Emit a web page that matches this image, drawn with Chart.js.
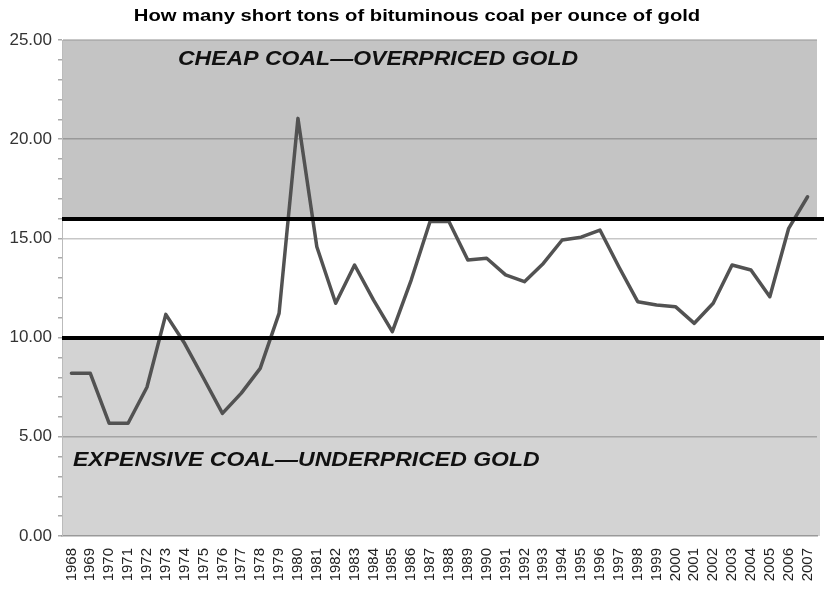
<!DOCTYPE html>
<html>
<head>
<meta charset="utf-8">
<script src="https://cdn.jsdelivr.net/npm/chart.js@4.4.1/dist/chart.umd.min.js"></script>
<style>
  html, body { margin: 0; padding: 0; background: #ffffff; }
  #wrap { width: 824px; height: 589px; }
</style>
</head>
<body>
<div id="wrap"><canvas id="c" width="824" height="589"></canvas></div>
<script>
const titleText = 'How many short tons of bituminous coal per ounce of gold';

const years = ['1968','1969','1970','1971','1972','1973','1974','1975','1976','1977',
  '1978','1979','1980','1981','1982','1983','1984','1985','1986','1987',
  '1988','1989','1990','1991','1992','1993','1994','1995','1996','1997',
  '1998','1999','2000','2001','2002','2003','2004','2005','2006','2007'];

const tonsPerOunce = [8.2, 8.2, 5.68, 5.68, 7.5, 11.17, 9.7, 7.95, 6.18, 7.2,
  8.45, 11.22, 21.05, 14.58, 11.73, 13.66, 11.9, 10.3, 12.9, 15.85,
  15.85, 13.91, 14.0, 13.16, 12.82, 13.74, 14.92, 15.06, 15.42, 13.57,
  11.81, 11.64, 11.56, 10.72, 11.73, 13.66, 13.41, 12.06, 15.51, 17.1];

const yMin = 0;
const yMax = 25;
const yMajorStep = 5;
const zoneBounds = [10, 16];
const zoneLabels = ['EXPENSIVE COAL\u2014UNDERPRICED GOLD', 'CHEAP COAL\u2014OVERPRICED GOLD'];
const zoneLabelValues = [3.8, 24];

Chart.defaults.font.family = "'Liberation Sans', Arial, Helvetica, sans-serif";

function stretchedText(ctx, text, x, y, sx) {
  ctx.save();
  ctx.translate(x, y);
  ctx.scale(sx, 1);
  ctx.fillText(text, 0, 0);
  ctx.restore();
}

const zonesPlugin = {
  id: 'zones',
  beforeDraw(chart) {
    const { ctx, chartArea: a, scales: { y } } = chart;
    ctx.save();
    ctx.fillStyle = '#ffffff';
    ctx.fillRect(0, 0, chart.width, chart.height);
    const yLow = y.getPixelForValue(zoneBounds[0]);
    const yHigh = y.getPixelForValue(zoneBounds[1]);
    const yTop = y.getPixelForValue(yMax);
    const yBot = y.getPixelForValue(yMin);
    ctx.fillStyle = '#c4c4c4';
    ctx.fillRect(a.left, yTop, a.right - a.left, yHigh - yTop);
    ctx.fillStyle = '#d3d3d3';
    ctx.fillRect(a.left, yLow, a.right - a.left + 3, yBot - yLow);
    // title
    ctx.fillStyle = '#000000';
    ctx.font = "bold 17px 'Liberation Sans', Arial, sans-serif";
    ctx.textBaseline = 'middle';
    ctx.textAlign = 'center';
    stretchedText(ctx, titleText, 417, 16, 1.19);
    ctx.restore();
  },
  afterDatasetsDraw(chart) {
    const { ctx, chartArea: a, scales: { y } } = chart;
    ctx.save();
    ctx.strokeStyle = '#000000';
    ctx.lineWidth = 4;
    zoneBounds.forEach(v => {
      const py = Math.round(y.getPixelForValue(v));
      ctx.beginPath();
      ctx.moveTo(a.left, py);
      ctx.lineTo(chart.width, py);
      ctx.stroke();
    });
    ctx.fillStyle = '#111111';
    ctx.font = "italic bold 19.5px 'Liberation Sans', Arial, sans-serif";
    ctx.textBaseline = 'middle';
    ctx.textAlign = 'left';
    stretchedText(ctx, zoneLabels[0], a.left + 11, y.getPixelForValue(zoneLabelValues[0]), 1.18);
    stretchedText(ctx, zoneLabels[1], a.left + 116, y.getPixelForValue(zoneLabelValues[1]), 1.18);
    ctx.restore();
  }
};

new Chart(document.getElementById('c'), {
  type: 'line',
  data: {
    labels: years,
    datasets: [{
      data: tonsPerOunce,
      borderColor: '#525252',
      borderWidth: 3.5,
      pointRadius: 0,
      tension: 0,
      fill: false,
      borderJoinStyle: 'round',
      borderCapStyle: 'round'
    }]
  },
  options: {
    responsive: false,
    devicePixelRatio: 1,
    animation: false,
    layout: { padding: { left: 0, right: 7, top: 40, bottom: 0 } },
    plugins: {
      legend: { display: false },
      tooltip: { enabled: false },
      title: { display: false }
    },
    scales: {
      x: {
        offset: true,
        grid: { display: false },
        border: { color: '#999999', width: 1.5 },
        ticks: {
          autoSkip: false,
          minRotation: 90,
          maxRotation: 90,
          color: '#222222',
          font: { size: 15 },
          padding: 4
        },
        afterFit(s) { s.height = 53; s.paddingRight = 0; s.paddingLeft = 0; }
      },
      y: {
        min: yMin,
        max: yMax,
        border: { color: '#bbbbbb', width: 1 },
        grid: {
          color: ctx => (ctx.tick && ctx.tick.value % yMajorStep === 0 && ctx.tick.value > yMin) ? 'rgba(0,0,0,0.22)' : 'rgba(0,0,0,0)',
          lineWidth: 1.5,
          tickColor: '#aaaaaa',
          tickLength: 4
        },
        ticks: {
          stepSize: 1,
          autoSkip: false,
          color: '#333333',
          font: { size: 17 },
          padding: 6,
          callback: v => (v % yMajorStep === 0 ? Number(v).toFixed(2) : '')
        },
        afterFit(s) { s.width = 62; s.paddingTop = 0; s.paddingBottom = 0; }
      }
    }
  },
  plugins: [zonesPlugin]
});
</script>
</body>
</html>
